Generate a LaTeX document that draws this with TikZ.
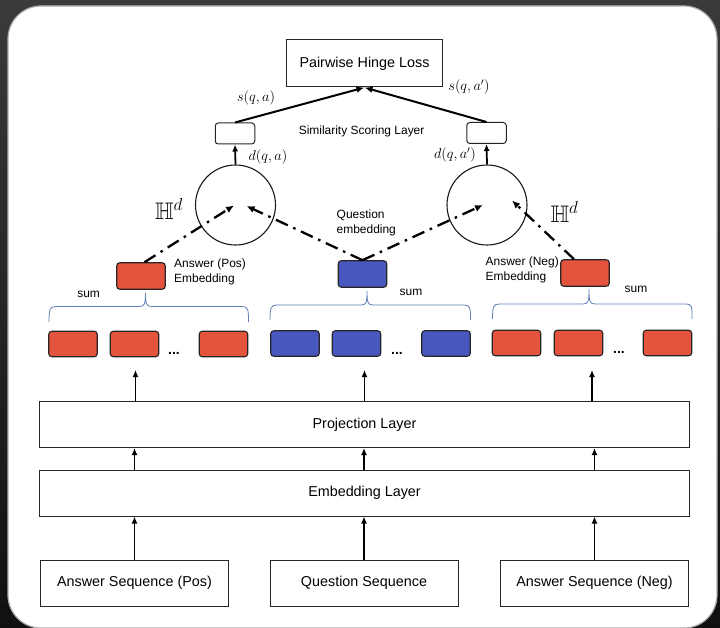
\documentclass[tikz,border=0pt]{standalone}
\usepackage{amssymb}
\usepackage{fontspec}
\setmainfont{Liberation Sans}
\usetikzlibrary{arrows.meta,calc}

\definecolor{tokred}{HTML}{E4533E}
\definecolor{tokblue}{HTML}{4858BE}
\definecolor{bracecol}{HTML}{5F7FB5}
\definecolor{bgtop}{HTML}{3A3A3A}
\definecolor{bgbot}{HTML}{101010}

\tikzset{
  bigtxt/.style={font=\fontsize{14.4}{17}\selectfont},
  lbl/.style={font=\fontsize{12}{15}\selectfont, inner sep=0pt},
  dotlbl/.style={font=\fontsize{14}{15}\bfseries, inner sep=0pt},
  mathlbl/.style={font=\fontsize{14.4}{16}\selectfont, inner sep=0pt},
  layerbox/.style={draw=black!85, line width=1bp, minimum width=649bp, minimum height=46bp, inner sep=0pt, bigtxt},
  seqbox/.style={draw=black!85, line width=1bp, minimum width=188bp, minimum height=46bp, inner sep=0pt, bigtxt},
  tok/.style={draw=black!85, line width=1.1bp, rounded corners=3bp, minimum width=48.5bp, minimum height=25.5bp, inner sep=0pt},
  redtok/.style={tok, fill=tokred},
  bluetok/.style={tok, fill=tokblue},
  simbox/.style={draw=black!85, rounded corners=3bp, minimum width=39.5bp, minimum height=21bp, line width=1bp, inner sep=0pt},
  ball/.style={circle, draw=black!90, line width=1.1bp, minimum size=80bp, inner sep=0pt},
  uparrow/.style={-{Latex[length=7bp,width=6bp]}, line width=1.8bp},
  toparrow/.style={-{Latex[length=8bp,width=6.5bp]}, line width=2bp},
  dasharrow/.style={-{Latex[length=8bp,width=7bp]}, line width=2.3bp, dash pattern=on 13bp off 6bp on 2.5bp off 6bp},
  sumbrace/.style={draw=bracecol, line width=0.8bp},
  hyplbl/.style={inner sep=0pt, font=\fontsize{24}{28}\selectfont},
}

\begin{document}
\begin{tikzpicture}[x=1bp, y=-1bp]
\useasboundingbox (0,0) rectangle (720,628);

% slide backdrop and white panel
\fill[top color=bgtop, bottom color=bgbot] (0,0) rectangle (720,628);
\fill[white, draw=gray!65, line width=1.2bp, rounded corners=33bp] (8,6) rectangle (717,628);

% input sequences and shared layers
\node[seqbox] (sP) at (134.5,583) {Answer Sequence (Pos)};
\node[seqbox] (sQ) at (364,583) {Question Sequence};
\node[seqbox] (sN) at (594.5,583) {Answer Sequence (Neg)};
\node[layerbox] (emb) at (364.5,493) {Embedding Layer};
\node[layerbox] (proj) at (364.5,424.5) {Projection Layer};

\draw[uparrow] (sP.north) -- (sP.north |- emb.south);
\draw[uparrow] (sQ.north) -- (sQ.north |- emb.south);
\draw[uparrow] (sN.north) -- (sN.north |- emb.south);
\draw[uparrow] (emb.north -| sP) -- (proj.south -| sP);
\draw[uparrow] (emb.north -| sQ) -- (proj.south -| sQ);
\draw[uparrow] (emb.north -| sN) -- (proj.south -| sN);

\coordinate (aP) at (135.5,370);
\coordinate (aQ) at (364.5,370);
\coordinate (aN) at (592,370);
\draw[uparrow] (proj.north -| aP) -- (aP);
\draw[uparrow] (proj.north -| aQ) -- (aQ);
\draw[uparrow] (proj.north -| aN) -- (aN);

% token vectors
\node[redtok] (tP1) at (73,344) {};
\node[redtok] (tP2) at (134.5,344) {};
\node[redtok] (tP3) at (223.5,344) {};
\node[dotlbl] (dP) at (174,353) {...};
\node[bluetok] (tQ1) at (295,343.5) {};
\node[bluetok] (tQ2) at (356.5,343.5) {};
\node[bluetok] (tQ3) at (446,343.5) {};
\node[dotlbl] (dQ) at (397,353) {...};
\node[redtok] (tN1) at (516.5,343) {};
\node[redtok] (tN2) at (578.5,343) {};
\node[redtok] (tN3) at (667.5,343) {};
\node[dotlbl] (dN) at (619,352) {...};

% summation braces
\draw[sumbrace] (49,322) .. controls (49,309) and (50,306.5) .. (56,306.5) -- (139,306.5)
  .. controls (144.5,306.5) and (145.5,304) .. (145.5,293)
  .. controls (145.5,304) and (146.5,306.5) .. (152,306.5) -- (242,306.5)
  .. controls (248,306.5) and (248.5,309) .. (248.5,322);
\draw[sumbrace] (270,320) .. controls (270,307.5) and (271,305) .. (277,305) -- (361,305)
  .. controls (366.5,305) and (367,302.5) .. (367,291)
  .. controls (367,302.5) and (368,305) .. (373,305) -- (464,305)
  .. controls (470,305) and (470.5,307.5) .. (470.5,320);
\draw[sumbrace] (492.5,319) .. controls (492.5,306.5) and (493.5,304) .. (499.5,304) -- (583,304)
  .. controls (588.5,304) and (589,301.5) .. (589,289)
  .. controls (589,301.5) and (590,304) .. (595,304) -- (686,304)
  .. controls (692,304) and (692,306.5) .. (692,319);
\node[lbl] (sumP) at (88.6,294) {sum};
\node[lbl] (sumQ) at (411,292) {sum};
\node[lbl] (sumN) at (636,289.5) {sum};

% pooled embeddings
\node[redtok, minimum height=26.5bp] (embP) at (141,276) {};
\node[bluetok, minimum height=26.5bp] (embQ) at (362.5,274) {};
\node[redtok, minimum height=26.5bp] (embN) at (585,273) {};
\node[lbl, anchor=west, align=left] (lP) at (174,272) {Answer (Pos)\\Embedding};
\node[lbl, anchor=west, align=left] (lQ) at (336.5,222.5) {Question\\embedding};
\node[lbl, anchor=west, align=left] (lN) at (485.5,269.5) {Answer (Neg)\\Embedding};

% hyperbolic spaces
\node[ball] (cL) at (235.5,205) {};
\node[ball] (cR) at (487,205) {};
\node[hyplbl] (hL) at (169,209) {$\mathbb{H}^d$};
\node[hyplbl] (hR) at (564.5,212) {$\mathbb{H}^d$};

\coordinate (pL1) at (234,205.5);
\coordinate (pL2) at (246.5,206);
\coordinate (pR1) at (483,205);
\coordinate (pR2) at (512,200.5);
\coordinate (eP) at ($(embP.north)+(3.5,0)$);
\coordinate (eN) at ($(embN.north)+(-11,0)$);
\draw[dasharrow] (eP) -- (pL1);
\draw[dasharrow] (embQ.north) -- (pL2);
\draw[dasharrow] (embQ.north) -- (pR1);
\draw[dasharrow] (eN) -- (pR2);

% similarity scoring
\node[simbox] (simL) at (235,133.5) {};
\node[simbox] (simR) at (486.5,133) {};
\node[lbl] (simT) at (361.6,131) {Similarity Scoring Layer};
\draw[uparrow] (cL.north) -- (simL.south);
\draw[uparrow] (cR.north) -- (simR.south);
\node[mathlbl] (dL) at (268,157) {$d(q,a)$};
\node[mathlbl] (dR) at (455,155) {$d(q,a')$};

% loss
\node[draw=black!85, line width=1bp, minimum width=156bp, minimum height=47bp, inner sep=0pt, bigtxt] (loss) at (364.5,63.5) {Pairwise Hinge Loss};
\draw[toparrow] (simL.north) -- (loss.south);
\draw[toparrow] (simR.north) -- (loss.south);
\node[mathlbl] (sL) at (256,98) {$s(q,a)$};
\node[mathlbl] (sR) at (469,87) {$s(q,a')$};
\end{tikzpicture}
\end{document}
